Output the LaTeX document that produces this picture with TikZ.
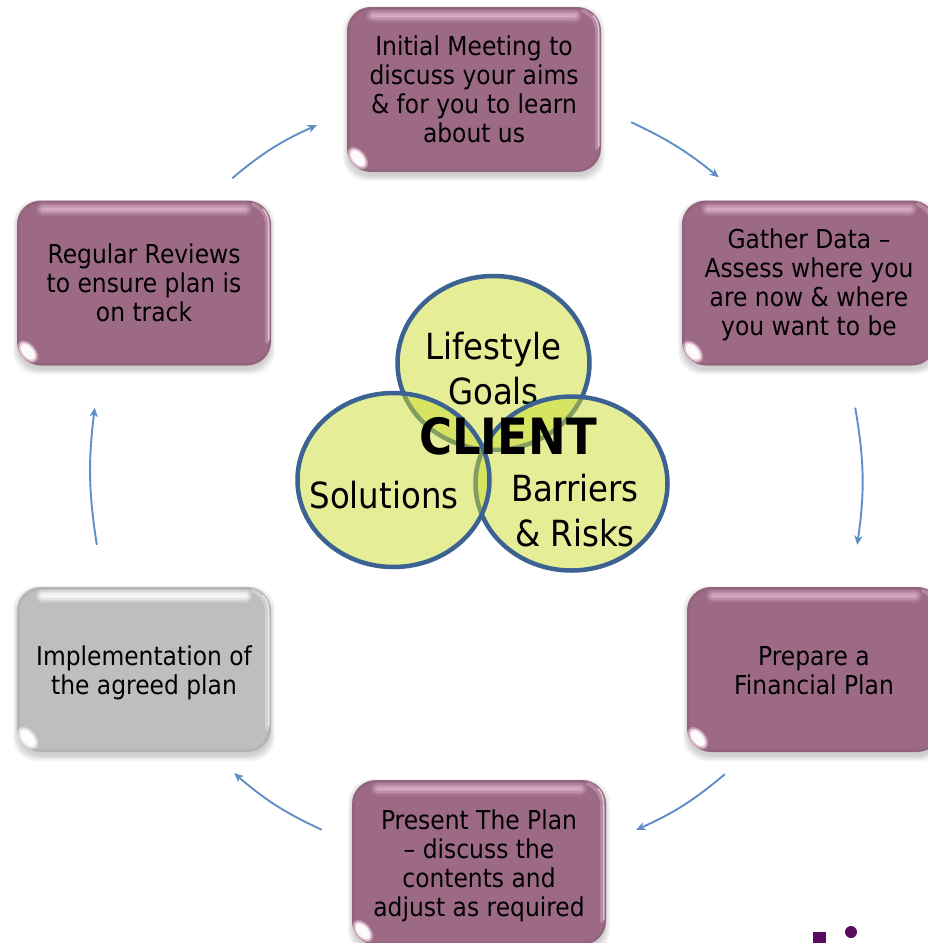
\documentclass[tikz,border=0pt]{standalone}
\usepackage{fontspec}
\setmainfont{DejaVu Sans}[FakeStretch=0.9]
\usetikzlibrary{backgrounds,calc,shapes.geometric,arrows.meta}
\definecolor{mauve}{HTML}{9C6A85}
\definecolor{mauvehi}{HTML}{F6CCE2}
\definecolor{silver}{HTML}{BEBEBE}
\definecolor{ringblue}{HTML}{3B6291}
\definecolor{limefill}{RGB}{202,220,43}
\definecolor{arrowblue}{HTML}{5F8FC6}
\definecolor{logopurple}{HTML}{5A0A5F}
\tikzset{
  glassbox/.style={minimum width=254pt,minimum height=165pt,inner sep=0pt,rounded corners=24pt,
    align=center,font=\fontsize{26}{29}\selectfont,text=black},
  ring/.style={ellipse,minimum width=192pt,minimum height=174pt,inner sep=0pt,
    draw=ringblue,line width=4.5pt,fill=limefill,fill opacity=.49},
  ringtext/.style={inner sep=0pt,align=center,font=\fontsize{36}{45}\selectfont,text=black},
  flow/.style={draw=arrowblue,line width=1.9pt,-{Stealth[length=9pt,width=8pt,inset=2.5pt]}},
}
\newcommand\lift[1]{\rule{0pt}{#1pt}}
\newcommand\glassstrip[2]{%
  \foreach \w/\o in {14/.10,11/.15,8/.2,5/.25,2/.25}{
    \draw[#1,line width=\w pt,line cap=round,opacity=\o]
      ([shift={(26,9)}]#2.north west) -- ([shift={(-26,9)}]#2.north east);
  }
}
\newcommand\glassfx[2]{%
  \begin{pgfonlayer}{background}
    \foreach \i in {1,...,6}{
      \fill[black,opacity=.03,rounded corners=24pt]
        ([shift={(-\i+2,-\i+5)}]#2.north west) rectangle ([shift={(\i-2,\i+3)}]#2.south east);
    }
  \end{pgfonlayer}
  \draw[black,opacity=.05,line width=3pt,rounded corners=22pt]
    ([shift={(1.5,1.5)}]#2.north west) rectangle ([shift={(-1.5,-1.5)}]#2.south east);
  \glassstrip{#1}{#2}
  \draw[#1,line width=4pt,opacity=.3,line cap=round]
    ([shift={(-18,4)}]#2.north east)
    .. controls ([shift={(-9,8)}]#2.north east) and ([shift={(-5,14)}]#2.north east) .. ([shift={(-4,24)}]#2.north east)
    -- ([shift={(-4,-24)}]#2.south east);
  \draw[white,line width=1.6pt,opacity=.55,line cap=round]
    ([shift={(-8,9)}]#2.north east)
    .. controls ([shift={(-4,13)}]#2.north east) and ([shift={(-2.5,18)}]#2.north east) .. ([shift={(-2.5,26)}]#2.north east)
    -- ([shift={(-2.5,-26)}]#2.south east);
  \coordinate (#2c) at ([shift={(11,-14)}]#2.south west);
  \begin{scope}[shift={(#2c)},rotate=-50]
    \fill[#1,opacity=.45] (0,0) ellipse (13pt and 8pt);
    \fill[white,opacity=.6] (0,0) ellipse (11pt and 6.5pt);
    \fill[white,opacity=.9] (0,0) ellipse (9pt and 5pt);
  \end{scope}
}
\begin{document}
\begin{tikzpicture}[x=1pt,y=-1pt]
  \useasboundingbox (0,0) rectangle (928,943);
  \begin{pgfonlayer}{background}
    \fill[white] (0,0) rectangle (928,943);
  \end{pgfonlayer}
  \clip (0,0) rectangle (928,943);

  \node[glassbox,fill=mauve] (meet) at (474,89.5) {Initial Meeting to\\discuss your aims\\\& for you to learn\\about us};
  \glassfx{mauvehi}{meet}
  \node[glassbox,fill=mauve] (data) at (809,283) {\lift{24}Gather Data --\\Assess where you\\are now \& where\\you want to be};
  \glassfx{mauvehi}{data}
  \node[glassbox,fill=mauve] (prep) at (814,669.5) {\lift{22}Prepare a\\Financial Plan};
  \glassfx{mauvehi}{prep}
  \node[glassbox,fill=mauve] (pres) at (479,862.5) {\lift{26}Present The Plan\\-- discuss the\\contents and\\adjust as required};
  \glassfx{mauvehi}{pres}
  \node[glassbox,fill=silver] (impl) at (144,669.5) {\lift{26}Implementation of\\the agreed plan};
  \glassfx{white}{impl}
  \glassstrip{white}{impl}
  \node[glassbox,fill=mauve] (revw) at (144,283) {Regular Reviews\\to ensure plan is\\on track};
  \glassfx{mauvehi}{revw}

  \draw[flow] ([shift={(30,-50)}]meet.south east) to[bend left=7] ([shift={(37,-23)}]data.north west);
  \draw[flow] ([shift={(-81,42)}]data.south east) to[bend left=9] ([shift={(-84,-42)}]prep.north east);
  \draw[flow] ([shift={(38,22)}]prep.south west) to[bend left=8] ([shift={(30,50)}]pres.north east);
  \draw[flow] ([shift={(-30,50)}]pres.north west) to[bend left=8] ([shift={(-37,21)}]impl.south east);
  \draw[flow] ([shift={(80,-42)}]impl.north west) to[bend left=8] ([shift={(78,42)}]revw.south west);
  \draw[flow] ([shift={(-39,-22)}]revw.north east) to[bend left=8] ([shift={(-30,-47)}]meet.south west);

  \node[ring] (life) at (493.5,363) {};
  \node[ringtext] (lifet) at (493.5,369) {Lifestyle\\Goals};
  \node[ring] (barr) at (571.5,483.5) {};
  \node[ringtext] (barrt) at (575,511) {Barriers\\\& Risks};
  \node[ring] (solu) at (393.5,480) {};
  \node[ringtext] (solut) at (384,495) {Solutions};
  \node[ringtext,font=\fontsize{50}{50}\selectfont\bfseries] (client) at (508,436) {CLIENT};

  \fill[logopurple] (813,932) rectangle (826,943);
  \fill[logopurple] (851,932) circle (6);
\end{tikzpicture}
\end{document}
